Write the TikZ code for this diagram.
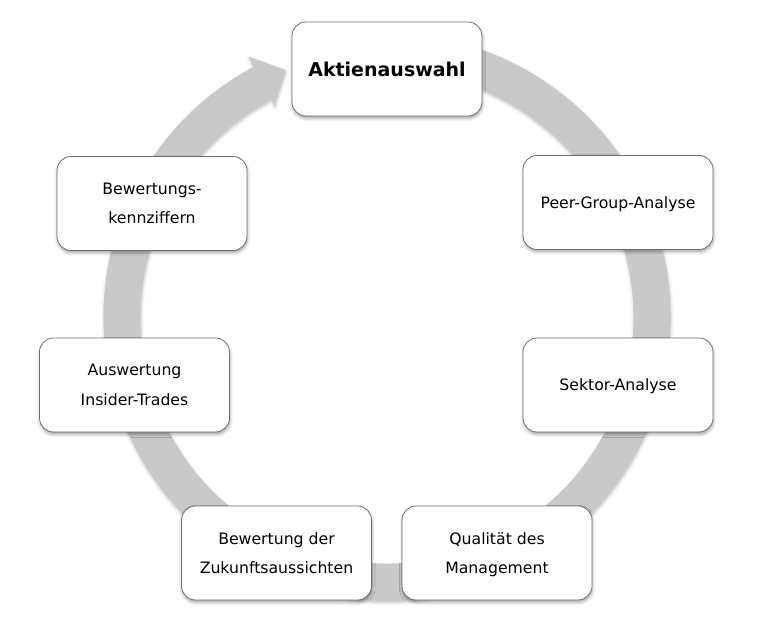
\documentclass[tikz,border=0pt]{standalone}
\usepackage{fontspec}
\setmainfont{DejaVu Sans}
\usetikzlibrary{calc, shadows.blur}

\definecolor{ringgray}{RGB}{201,201,201}
\definecolor{boxline}{RGB}{112,112,112}

\tikzset{
  stepbox/.style={draw=boxline, fill=white, line width=0.8pt, rounded corners=14pt,
    minimum width=190pt, minimum height=94pt, align=center, inner sep=2pt, text depth=0pt,
    font=\fontsize{15.7}{29.5}\selectfont,
    blur shadow={shadow xshift=0.5pt, shadow yshift=-2.5pt, shadow blur radius=3pt, shadow opacity=35}},
  mainbox/.style={stepbox, font=\fontsize{19}{23}\selectfont\bfseries}
}

\begin{document}
\begin{tikzpicture}[x=1pt, y=1pt]
    \useasboundingbox (0,0) rectangle (783,623);
    \coordinate (c) at (387,306);

    % Draw ring with arrow head
    \fill[ringgray, blur shadow={shadow xshift=0.5pt, shadow yshift=-2pt, shadow blur radius=3pt, shadow opacity=25}]
        ($(c)+(100:283.5pt)$) arc[start angle=100, end angle=-242, radius=283.5pt]
        -- ($(c)+(118:295pt)$) -- ($(c)+(112.3:267pt)$) -- ($(c)+(118:240pt)$)
        -- ($(c)+(118:246.5pt)$) arc[start angle=-242, end angle=100, radius=246.5pt] -- cycle;

    % Draw steps
    \node[mainbox] (auswahl) at (387,554) {Aktienauswahl};
    \node[stepbox] (peer) at (618,420.5) {Peer-Group-Analyse};
    \node[stepbox] (sektor) at (618,238) {Sektor-Analyse};
    \node[stepbox] (quali) at (497,70) {Qualität des\\Management};
    \node[stepbox] (zukunft) at (276.5,70) {Bewertung der\\Zukunftsaussichten};
    \node[stepbox] (insider) at (134.5,238) {Auswertung\\Insider-Trades};
    \node[stepbox] (kennz) at (152,419.5) {Bewertungs-\\kennziffern};
\end{tikzpicture}
\end{document}
